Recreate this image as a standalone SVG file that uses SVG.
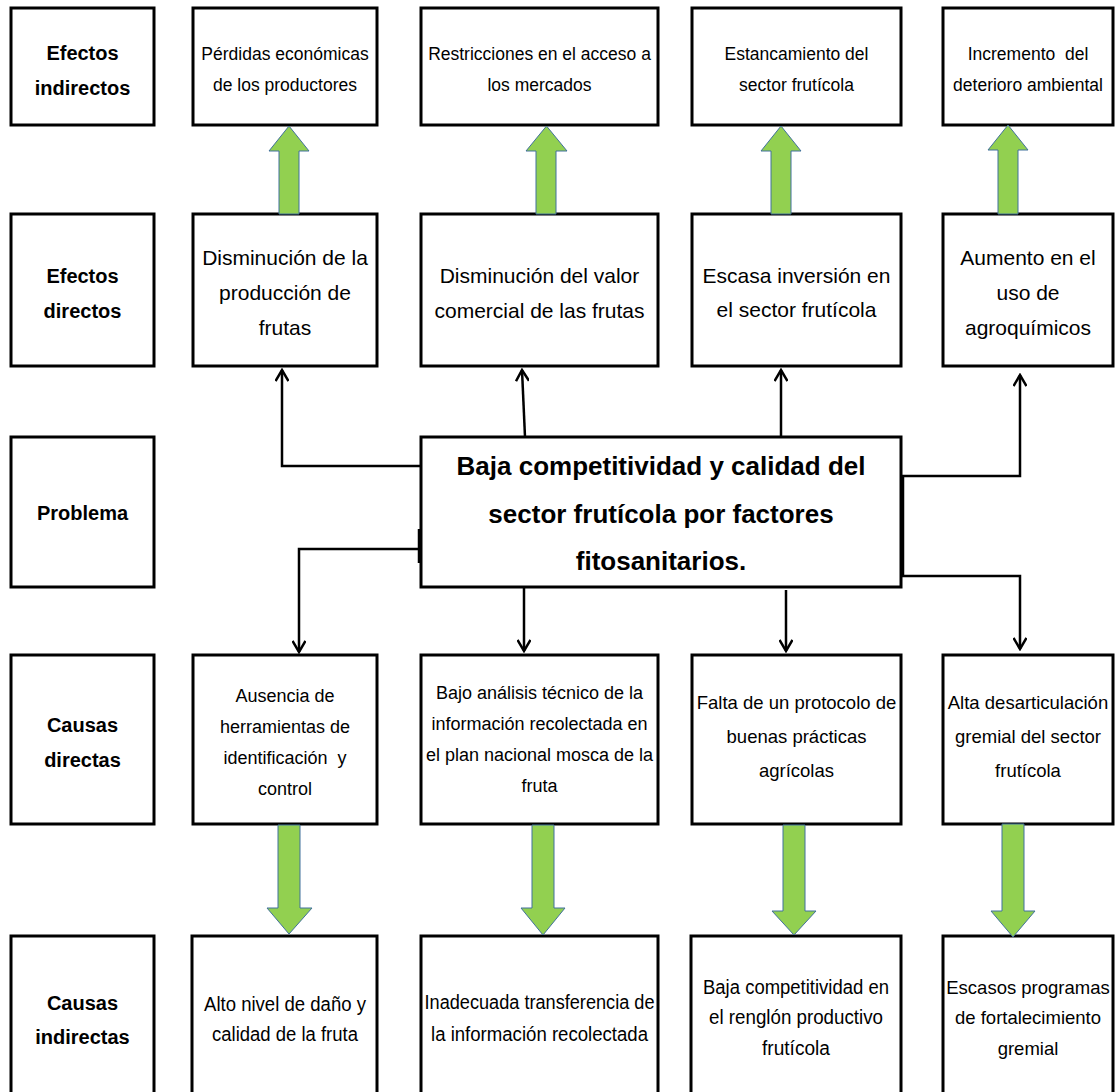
<svg xmlns="http://www.w3.org/2000/svg" width="1115" height="1092" viewBox="0 0 1115 1092">
<style>
  .box { fill: #fff; stroke: #000; stroke-width: 3; }
  .lbl { font-family: "Liberation Sans", Arial, sans-serif; font-weight: bold; font-size: 20px; fill: #000; text-anchor: middle; }
  .t1 { font-family: "Liberation Sans", Arial, sans-serif; font-size: 17.5px; fill: #000; text-anchor: middle; }
  .t2 { font-family: "Liberation Sans", Arial, sans-serif; font-size: 21px; fill: #000; text-anchor: middle; }
  .t4 { font-family: "Liberation Sans", Arial, sans-serif; font-size: 18px; fill: #000; text-anchor: middle; }
  .t4b { font-family: "Liberation Sans", Arial, sans-serif; font-size: 18.5px; fill: #000; text-anchor: middle; }
  .t5 { font-family: "Liberation Sans", Arial, sans-serif; font-size: 20px; fill: #000; text-anchor: middle; }
  .t5s { font-family: "Liberation Sans", Arial, sans-serif; font-size: 18.5px; fill: #000; text-anchor: middle; }
  .ctr { font-family: "Liberation Sans", Arial, sans-serif; font-weight: bold; font-size: 26px; fill: #000; text-anchor: middle; }
  .green { fill: #92D050; stroke: #41719C; stroke-width: 1; }
  .conn { fill: none; stroke: #000; stroke-width: 2.5; }
</style>
<defs>
  <marker id="ah" markerWidth="14" markerHeight="14" refX="12" refY="7" orient="auto" markerUnits="userSpaceOnUse">
    <path d="M1,0.5 L12,7 L1,13.5" fill="none" stroke="#000" stroke-width="2.5"/>
  </marker>
</defs>
<rect width="1115" height="1092" fill="#fff"/>

<!-- Row 1: Efectos indirectos -->
<g id="lbl-efectos-indirectos">
  <rect class="box" x="11" y="8" width="143" height="117"/>
  <text class="lbl" x="82.5" y="60">Efectos</text>
  <text class="lbl" x="82.5" y="95">indirectos</text>
</g>
<g id="ei1">
  <rect class="box" x="193" y="8" width="184" height="117"/>
  <text class="t1" x="285" y="60">Pérdidas económicas</text>
  <text class="t1" x="285" y="91">de los productores</text>
</g>
<g id="ei2">
  <rect class="box" x="421" y="8" width="237" height="117"/>
  <text class="t1" x="539.5" y="60">Restricciones en el acceso a</text>
  <text class="t1" x="539.5" y="91">los mercados</text>
</g>
<g id="ei3">
  <rect class="box" x="692" y="8" width="209" height="117"/>
  <text class="t1" x="796.5" y="60">Estancamiento del</text>
  <text class="t1" x="796.5" y="91">sector frutícola</text>
</g>
<g id="ei4">
  <rect class="box" x="943" y="8" width="170" height="117"/>
  <text class="t1" x="1028" y="60" xml:space="preserve">Incremento  del</text>
  <text class="t1" x="1028" y="91">deterioro ambiental</text>
</g>

<!-- Row 2: Efectos directos -->
<g id="lbl-efectos-directos">
  <rect class="box" x="11" y="214" width="143" height="152"/>
  <text class="lbl" x="82.5" y="283">Efectos</text>
  <text class="lbl" x="82.5" y="318">directos</text>
</g>
<g id="ed1">
  <rect class="box" x="193" y="214" width="184" height="152"/>
  <text class="t2" x="285" y="265">Disminución de la</text>
  <text class="t2" x="285" y="300">producción de</text>
  <text class="t2" x="285" y="335">frutas</text>
</g>
<g id="ed2">
  <rect class="box" x="421" y="214" width="237" height="152"/>
  <text class="t2" x="539.5" y="283">Disminución del valor</text>
  <text class="t2" x="539.5" y="318">comercial de las frutas</text>
</g>
<g id="ed3">
  <rect class="box" x="692" y="214" width="209" height="152"/>
  <text class="t2" x="796.5" y="283">Escasa inversión en</text>
  <text class="t2" x="796.5" y="317">el sector frutícola</text>
</g>
<g id="ed4">
  <rect class="box" x="943" y="214" width="170" height="152"/>
  <text class="t2" x="1028" y="265">Aumento en el</text>
  <text class="t2" x="1028" y="300">uso de</text>
  <text class="t2" x="1028" y="335">agroquímicos</text>
</g>

<!-- Row 3: Problema -->
<g id="lbl-problema">
  <rect class="box" x="11" y="437" width="143" height="150"/>
  <text class="lbl" x="82.5" y="520">Problema</text>
</g>

<!-- Connectors -->
<g id="connectors">
  <path class="conn" d="M421,466 H282 V370" marker-end="url(#ah)"/>
  <path class="conn" d="M525,437 L522,370" marker-end="url(#ah)"/>
  <path class="conn" d="M781,437 V370" marker-end="url(#ah)"/>
  <path class="conn" d="M903,526 V476 H1020 V375" marker-end="url(#ah)"/>
  <path class="conn" d="M419,529 V563"/>
  <path class="conn" d="M421,549 H299 V652" marker-end="url(#ah)"/>
  <path class="conn" d="M524,587 V651" marker-end="url(#ah)"/>
  <path class="conn" d="M786,590 V651" marker-end="url(#ah)"/>
  <path class="conn" d="M903,526 V576 H1020 V649" marker-end="url(#ah)"/>
</g>

<g id="problema">
  <rect class="box" x="421" y="437" width="480" height="150"/>
  <text class="ctr" x="661" y="475">Baja competitividad y calidad del</text>
  <text class="ctr" x="661" y="523">sector frutícola por factores</text>
  <text class="ctr" x="661" y="570">fitosanitarios.</text>
</g>

<!-- Row 4: Causas directas -->
<g id="lbl-causas-directas">
  <rect class="box" x="11" y="655" width="143" height="169"/>
  <text class="lbl" x="82.5" y="732">Causas</text>
  <text class="lbl" x="82.5" y="767">directas</text>
</g>
<g id="cd1">
  <rect class="box" x="193" y="655" width="184" height="169"/>
  <text class="t4" x="285" y="702">Ausencia de</text>
  <text class="t4" x="285" y="733">herramientas de</text>
  <text class="t4" x="285" y="764" xml:space="preserve">identificación  y</text>
  <text class="t4" x="285" y="795">control</text>
</g>
<g id="cd2">
  <rect class="box" x="421" y="655" width="237" height="169"/>
  <text class="t4" x="539.5" y="699">Bajo análisis técnico de la</text>
  <text class="t4" x="539.5" y="730">información recolectada en</text>
  <text class="t4" x="539.5" y="761">el plan nacional mosca de la</text>
  <text class="t4" x="539.5" y="792">fruta</text>
</g>
<g id="cd3">
  <rect class="box" x="692" y="655" width="209" height="169"/>
  <text class="t4b" x="796.5" y="709">Falta de un protocolo de</text>
  <text class="t4b" x="796.5" y="743">buenas prácticas</text>
  <text class="t4b" x="796.5" y="777">agrícolas</text>
</g>
<g id="cd4">
  <rect class="box" x="943" y="655" width="170" height="169"/>
  <text class="t4b" x="1028" y="709">Alta desarticulación</text>
  <text class="t4b" x="1028" y="743">gremial del sector</text>
  <text class="t4b" x="1028" y="777">frutícola</text>
</g>

<!-- Row 5: Causas indirectas -->
<g id="lbl-causas-indirectas">
  <rect class="box" x="11" y="936" width="143" height="170"/>
  <text class="lbl" x="82.5" y="1010">Causas</text>
  <text class="lbl" x="82.5" y="1044">indirectas</text>
</g>
<g id="ci1">
  <rect class="box" x="192" y="936" width="185" height="170"/>
  <text class="t5" x="285" y="1011" textLength="162" lengthAdjust="spacingAndGlyphs">Alto nivel de daño y</text>
  <text class="t5" x="285" y="1041" textLength="146" lengthAdjust="spacingAndGlyphs">calidad de la fruta</text>
</g>
<g id="ci2">
  <rect class="box" x="421" y="936" width="237" height="170"/>
  <text class="t5" x="539.5" y="1009" textLength="230" lengthAdjust="spacingAndGlyphs">Inadecuada transferencia de</text>
  <text class="t5" x="539.5" y="1041" textLength="217" lengthAdjust="spacingAndGlyphs">la información recolectada</text>
</g>
<g id="ci3">
  <rect class="box" x="691" y="936" width="210" height="170"/>
  <text class="t5" x="796" y="994" textLength="186" lengthAdjust="spacingAndGlyphs">Baja competitividad en</text>
  <text class="t5" x="796" y="1024" textLength="174" lengthAdjust="spacingAndGlyphs">el renglón productivo</text>
  <text class="t5" x="796" y="1055" textLength="68" lengthAdjust="spacingAndGlyphs">frutícola</text>
</g>
<g id="ci4">
  <rect class="box" x="943" y="936" width="170" height="170"/>
  <text class="t5s" x="1028" y="994">Escasos programas</text>
  <text class="t5s" x="1028" y="1024">de fortalecimiento</text>
  <text class="t5s" x="1028" y="1055">gremial</text>
</g>

<!-- Green block arrows -->
<g id="block-arrows">
  <polygon class="green" points="289,126 309,151 299,151 299,214 279,214 279,151 269,151"/>
  <polygon class="green" points="546.5,126 567,151 556,151 556,214 536,214 536,151 526,151"/>
  <polygon class="green" points="781,126 801,151 791,151 791,214 771,214 771,151 761,151"/>
  <polygon class="green" points="1008,125 1028,150 1018,150 1018,214 998,214 998,150 988,150"/>
  <polygon class="green" points="278,825 300,825 300,908 312,908 289,934 267,908 278,908"/>
  <polygon class="green" points="532,825 554,825 554,908 565,908 543,935 521,908 532,908"/>
  <polygon class="green" points="783,825 805,825 805,911 816,911 794,935 772,911 783,911"/>
  <polygon class="green" points="1002,824 1024,824 1024,911 1035,911 1013,937 991,911 1002,911"/>
</g>
</svg>
